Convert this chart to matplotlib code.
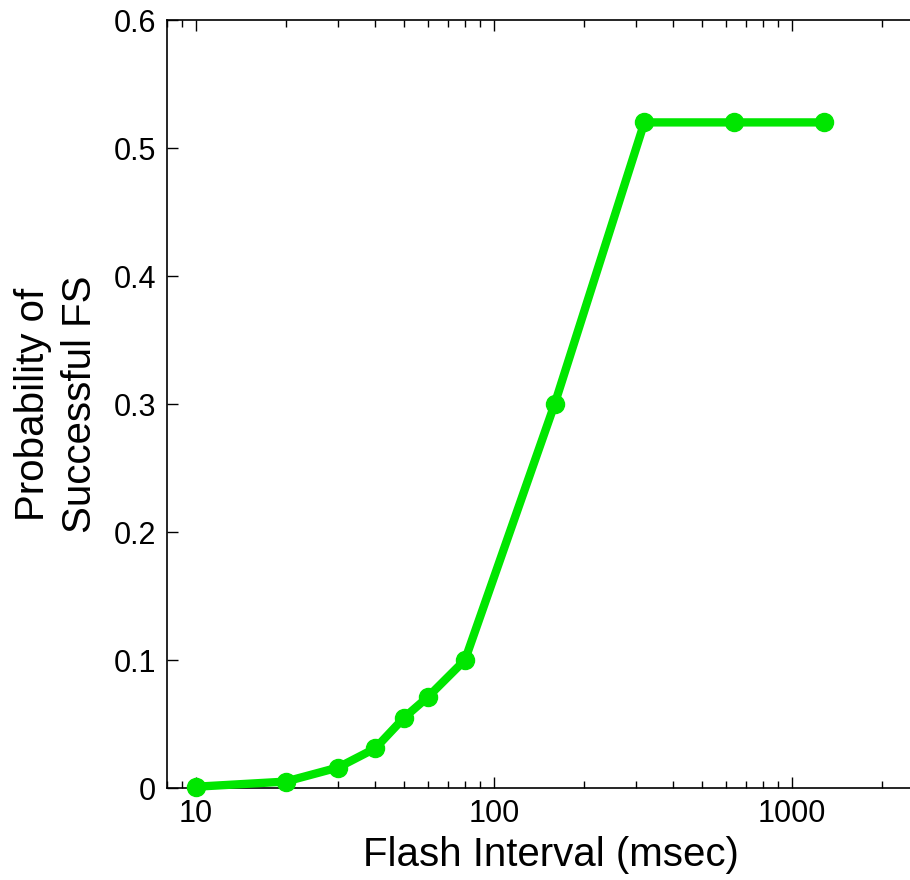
import matplotlib
matplotlib.use('Agg')
import matplotlib.pyplot as plt
from matplotlib.ticker import LogLocator, NullFormatter, FixedLocator, FixedFormatter

plt.rcParams['font.family'] = ['Liberation Sans', 'DejaVu Sans']

# flash interval (msec) vs probability of successful FS
interval = [10, 20, 30, 40, 50, 60, 80, 160, 320, 640, 1280]
prob = [0.001, 0.005, 0.016, 0.031, 0.055, 0.071, 0.100, 0.300, 0.520, 0.520, 0.520]
yticks = [0, 0.1, 0.2, 0.3, 0.4, 0.5, 0.6]
xticks = [10, 100, 1000]

W, H = 910, 880
fig = plt.figure(figsize=(W / 100, H / 100), dpi=100)
# axes runs past the right edge of the picture, like the reference
left, right, top, bottom = 167, 934, 20, 788
ax = fig.add_axes([left / W, 1 - bottom / H, (right - left) / W, (bottom - top) / H])

ax.plot(interval, prob, color='#00e600', lw=6, marker='o', ms=13,
        solid_joinstyle='miter', zorder=3, clip_on=False)

ax.set_xscale('log')
ax.set_xlim(8, 3000)
ax.set_ylim(0, 0.6)

ax.xaxis.set_major_locator(FixedLocator(xticks))
ax.xaxis.set_major_formatter(FixedFormatter([str(t) for t in xticks]))
ax.xaxis.set_minor_locator(LogLocator(base=10, subs=range(2, 10)))
ax.xaxis.set_minor_formatter(NullFormatter())
ax.set_yticks(yticks)
ax.set_yticklabels(['0', '0.1', '0.2', '0.3', '0.4', '0.5', '0.6'])

ax.tick_params(which='both', direction='in', top=True, right=False,
               labelsize=22, width=1, pad=8)
ax.tick_params(which='major', length=8)
ax.tick_params(which='minor', length=5)
for s in ax.spines.values():
    s.set_linewidth(1.2)

ax.set_xlabel('Flash Interval (msec)', fontsize=29, labelpad=5)
ax.set_ylabel('Probability of\nSuccessful FS', fontsize=29, labelpad=10,
              linespacing=1.3)

fig.savefig('out.png', dpi=100)
